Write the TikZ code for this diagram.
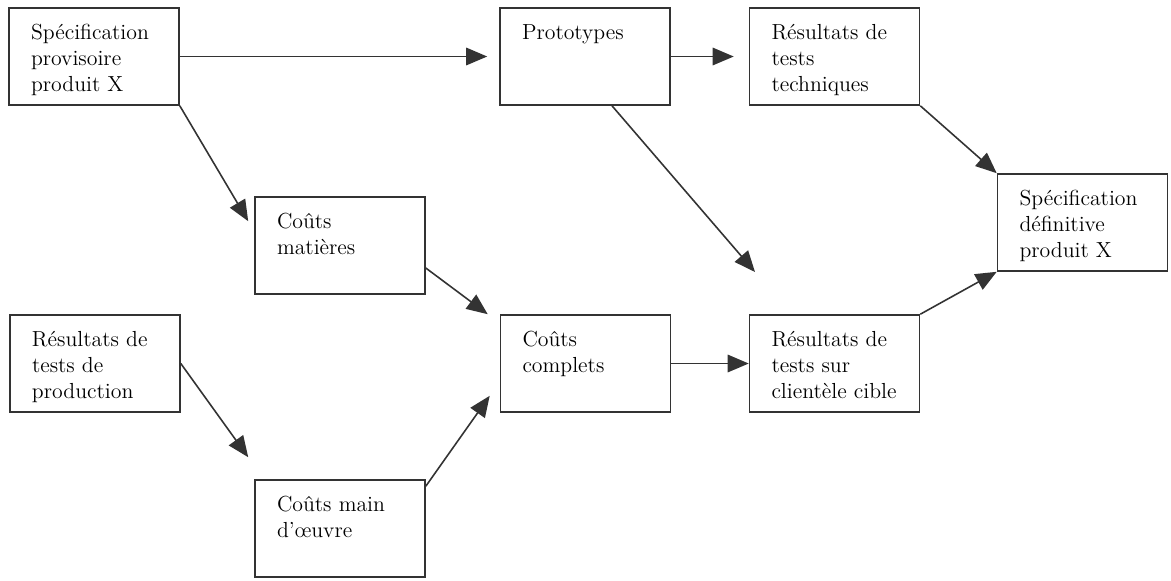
\documentclass[tikz,border=0pt]{standalone}
\usepackage{fontspec}
\usepackage{tikz}
\usetikzlibrary{arrows.meta}
\usetikzlibrary{calc}

\newcommand{\stagetext}[1]{\parbox[c][1.94cm][t]{3.4cm}{%
  \leftskip=0.44cm\rightskip=0pt plus 1fil\parindent=0pt
  \vspace*{7.6pt}\strut #1}}

\begin{document}
\begin{tikzpicture}[
    stage/.style={draw=black!80,
      line width=0.9pt,
      inner sep=0pt,
      font=\fontsize{12.4}{14.8}\selectfont},
    flow/.style={draw=black!80,
      line width=0.9pt,
      -{Triangle[length=0.42cm,width=0.35cm]}}]
  \useasboundingbox (0,0) rectangle (23.42,-11.6);
  % top row
  \node[stage] (provisoire) at (1.88,-1.13)
    {\stagetext{Spécification\\provisoire\\produit X}};
  \node[stage] (prototypes) at (11.7,-1.13)
    {\stagetext{Prototypes}};
  \node[stage] (techniques) at (16.69,-1.13)
    {\stagetext{Résultats de\\tests\\techniques}};
  \node[stage] (definitive) at (21.65,-4.45)
    {\stagetext{Spécification\\définitive\\produit X}};
  % cost boxes
  \node[stage] (matieres) at (6.8,-4.91)
    {\stagetext{Coûts\\matières}};
  \node[stage] (production) at (1.9,-7.27)
    {\stagetext{Résultats de\\tests de\\production}};
  \node[stage] (complets) at (11.71,-7.27)
    {\stagetext{Coûts\\complets}};
  \node[stage] (clientele) at (16.69,-7.27)
    {\stagetext{Résultats de\\tests sur\\clientèle cible}};
  \node[stage] (oeuvre) at (6.8,-10.57)
    {\stagetext{Coûts main\\d’œuvre}};
  \coordinate (protoend) at (15.1,-5.44);
  % connectors
  \draw[flow, shorten >=0.24cm] (provisoire.east) -- (prototypes.west);
  \draw[flow, shorten >=0.3cm] (prototypes.east) -- (techniques.west);
  \draw[flow] (provisoire.south east) -- ([shift={(-0.12,-0.5)}]matieres.north west);
  \draw[flow] (production.east) -- ([shift={(-0.12,0.44)}]oeuvre.north west);
  \draw[flow] ([yshift=-0.14cm]oeuvre.north east) -- ([shift={(-0.2,0.34)}]complets.south west);
  \draw[flow] ([yshift=-0.45cm]matieres.east) -- ([xshift=-0.24cm]complets.north west);
  \draw[flow] (complets.east) -- (clientele.west);
  \draw[flow] ([xshift=0.54cm]prototypes.south) -- (protoend);
  \draw[flow] (techniques.south east) -- (definitive.north west);
  \draw[flow] (clientele.north east) -- (definitive.south west);
\end{tikzpicture}
\end{document}
